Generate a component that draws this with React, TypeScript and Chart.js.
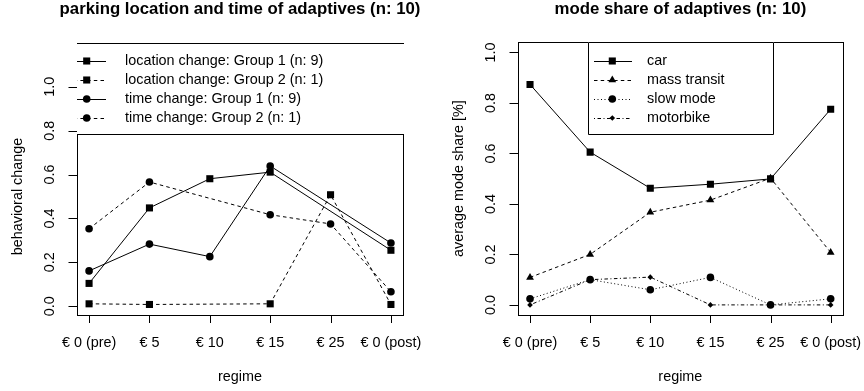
import React, { useEffect, useRef } from 'react';
import { Chart, registerables } from 'chart.js';
import { drawPoint } from 'chart.js/helpers';

Chart.register(...registerables);

const FONT = '"Liberation Sans", Arial, Helvetica, sans-serif';

const regimes = ['€ 0 (pre)', '€ 5', '€ 10', '€ 15', '€ 25', '€ 0 (post)'];
const yTicks = [0, 0.2, 0.4, 0.6, 0.8, 1.0];
const yTickLabels = ['0.0', '0.2', '0.4', '0.6', '0.8', '1.0'];

// left panel: parking location and time
const locationGroup1 = [0.104, 0.448, 0.581, 0.611, null, 0.255];
const locationGroup2 = [0.011, 0.008, null, 0.011, 0.508, 0.008];
const timeGroup1 = [0.161, 0.283, 0.226, 0.639, null, 0.288];
const timeGroup2 = [0.353, 0.566, null, 0.417, 0.375, 0.066];

// right panel: mode share
const car = [0.873, 0.605, 0.462, 0.478, 0.499, 0.775];
const massTransit = [0.109, 0.2, 0.367, 0.415, 0.502, 0.208];
const slowMode = [0.024, 0.1, 0.06, 0.109, 0, 0.024];
const motorbike = [0, 0.1, 0.11, 0, 0, 0];

const SOLID: number[] = [];
const DASHED = [3.5, 3.2];
const DOTTED = [1, 2.5];
const DOTDASH = [1, 2.5, 3.5, 2.5];

type Series = {
  label: string;
  values: (number | null)[];
  dash: number[];
  style: string;
  radius: number;
};

const leftSeries: Series[] = [
  { label: 'location change: Group 1 (n: 9)', values: locationGroup1, dash: SOLID, style: 'rect', radius: 5 },
  { label: 'location change: Group 2 (n: 1)', values: locationGroup2, dash: DASHED, style: 'rect', radius: 5 },
  { label: 'time change: Group 1 (n: 9)', values: timeGroup1, dash: SOLID, style: 'circle', radius: 3.8 },
  { label: 'time change: Group 2 (n: 1)', values: timeGroup2, dash: DASHED, style: 'circle', radius: 3.8 },
];

const rightSeries: Series[] = [
  { label: 'car', values: car, dash: SOLID, style: 'rect', radius: 5 },
  { label: 'mass transit', values: massTransit, dash: DASHED, style: 'triangle', radius: 4.5 },
  { label: 'slow mode', values: slowMode, dash: DOTTED, style: 'circle', radius: 3.8 },
  { label: 'motorbike', values: motorbike, dash: DOTDASH, style: 'rectRot', radius: 2.8 },
];

type LegendCfg = {
  x0?: number;
  x1?: number;
  y0: number;
  y1: number;
  clipToArea: boolean;
  fullBorder: boolean;
  sampleX0: number;
  sampleX1: number;
  markerX: number;
  textX: number;
};

type PanelCfg = {
  title: string;
  yTitle: string;
  padding: { left: number; right: number; top: number; bottom: number };
  series: Series[];
  legend: LegendCfg;
};

const leftPanel: PanelCfg = {
  title: 'parking location and time of adaptives (n: 10)',
  yTitle: 'behavioral change',
  padding: { left: 77, right: 29, top: 78, bottom: 76 },
  series: leftSeries,
  legend: {
    y0: 43, y1: 134, clipToArea: true, fullBorder: false,
    sampleX0: 67, sampleX1: 106, markerX: 86.7, textX: 125,
  },
};

const rightPanel: PanelCfg = {
  title: 'mode share of adaptives (n: 10)',
  yTitle: 'average mode share [%]',
  padding: { left: 86, right: 21.3, top: 42.3, bottom: 76 },
  series: rightSeries,
  legend: {
    x0: 155.7, x1: 340.7, y0: 42.3, y1: 134.3, clipToArea: false, fullBorder: true,
    sampleX0: 162, sampleX1: 200, markerX: 180.3, textX: 215,
  },
};

const px = (v: number) => Math.round(v) + 0.5;

function rPlotPlugin(cfg: PanelCfg) {
  return {
    id: 'rplot',
    afterDraw(chart: any) {
      const ctx: CanvasRenderingContext2D = chart.ctx;
      const a = chart.chartArea;
      const xs = chart.scales.x;
      const ys = chart.scales.y;
      ctx.save();
      ctx.strokeStyle = '#000';
      ctx.fillStyle = '#000';
      ctx.lineWidth = 1;
      ctx.setLineDash([]);

      // box
      ctx.strokeRect(px(a.left), px(a.top), Math.round(a.right) - Math.round(a.left), Math.round(a.bottom) - Math.round(a.top));

      // ticks
      ctx.beginPath();
      yTicks.forEach((v) => {
        const y = px(ys.getPixelForValue(v));
        ctx.moveTo(a.left - 8.5, y);
        ctx.lineTo(px(a.left), y);
      });
      regimes.forEach((_, i) => {
        const x = px(xs.getPixelForValue(i + 1));
        ctx.moveTo(x, px(a.bottom));
        ctx.lineTo(x, a.bottom + 8);
      });
      ctx.stroke();

      // tick labels
      ctx.font = `14.4px ${FONT}`;
      ctx.textAlign = 'center';
      ctx.textBaseline = 'middle';
      regimes.forEach((t, i) => {
        ctx.fillText(t, xs.getPixelForValue(i + 1), 342.7);
      });
      yTicks.forEach((v, i) => {
        ctx.save();
        ctx.translate(a.left - 27, ys.getPixelForValue(v));
        ctx.rotate(-Math.PI / 2);
        ctx.fillText(yTickLabels[i], 0, 0);
        ctx.restore();
      });

      // axis titles
      ctx.fillText('regime', (a.left + a.right) / 2, 376.7);
      ctx.save();
      ctx.translate(a.left - 59, (a.top + a.bottom) / 2);
      ctx.rotate(-Math.PI / 2);
      ctx.fillText(cfg.yTitle, 0, 0);
      ctx.restore();

      // main title
      ctx.font = `bold 16.8px ${FONT}`;
      ctx.fillText(cfg.title, (a.left + a.right) / 2, 9);

      // legend
      const L = cfg.legend;
      const lx0 = L.x0 ?? a.left;
      const lx1 = L.x1 ?? a.right;
      ctx.save();
      if (L.clipToArea) {
        ctx.beginPath();
        ctx.rect(Math.round(a.left), 0, Math.round(a.right) - Math.round(a.left) + 1, chart.height);
        ctx.clip();
      }
      ctx.fillStyle = '#fff';
      ctx.fillRect(Math.round(lx0), Math.round(L.y0), Math.round(lx1) - Math.round(lx0) + 1, Math.round(L.y1) - Math.round(L.y0) + 1);
      ctx.strokeStyle = '#000';
      ctx.beginPath();
      if (L.fullBorder) {
        ctx.rect(px(lx0), px(L.y0), Math.round(lx1) - Math.round(lx0), Math.round(L.y1) - Math.round(L.y0));
      } else {
        ctx.moveTo(Math.round(lx0), px(L.y0));
        ctx.lineTo(Math.round(lx1) + 1, px(L.y0));
        ctx.moveTo(Math.round(lx0), px(L.y1));
        ctx.lineTo(Math.round(lx1) + 1, px(L.y1));
      }
      ctx.stroke();

      ctx.font = `14.4px ${FONT}`;
      ctx.textAlign = 'left';
      ctx.textBaseline = 'middle';
      cfg.series.forEach((s, i) => {
        const y = 61 + i * 19;
        ctx.strokeStyle = '#000';
        ctx.setLineDash(s.dash);
        ctx.beginPath();
        ctx.moveTo(L.sampleX0, px(y));
        ctx.lineTo(L.sampleX1, px(y));
        ctx.stroke();
        ctx.setLineDash([]);
        ctx.fillStyle = '#000';
        drawPoint(ctx, { pointStyle: s.style as any, radius: s.radius, rotation: 0, borderWidth: 0 } as any, L.markerX, y);
        ctx.fillStyle = '#000';
        ctx.fillText(s.label, L.textX, y);
      });
      ctx.restore();

      ctx.restore();
    },
  };
}

function buildConfig(cfg: PanelCfg): any {
  return {
    type: 'line',
    data: {
      datasets: cfg.series.map((s) => ({
        label: s.label,
        data: s.values.map((v, i) => ({ x: i + 1, y: v })),
        borderColor: '#000',
        backgroundColor: '#000',
        borderWidth: 1,
        borderDash: s.dash,
        pointStyle: s.style,
        pointRadius: s.radius,
        pointBackgroundColor: '#000',
        pointBorderColor: '#000',
        pointBorderWidth: 0,
        tension: 0,
        spanGaps: true,
        fill: false,
      })),
    },
    options: {
      responsive: false,
      animation: false,
      devicePixelRatio: 1,
      layout: { padding: cfg.padding },
      scales: {
        x: { type: 'linear', min: 0.8, max: 6.2, display: false },
        y: { type: 'linear', min: -0.04, max: 1.04, display: false },
      },
      plugins: {
        legend: { display: false },
        tooltip: { enabled: false },
        title: { display: false },
      },
      events: [],
    },
    plugins: [rPlotPlugin(cfg)],
  };
}

function Panel({ cfg, left }: { cfg: PanelCfg; left: number }) {
  const ref = useRef<HTMLCanvasElement | null>(null);
  useEffect(() => {
    if (!ref.current) return;
    const chart = new Chart(ref.current, buildConfig(cfg));
    return () => chart.destroy();
  }, [cfg]);
  return (
    <canvas
      ref={ref}
      width={432}
      height={391}
      style={{ position: 'absolute', left, top: 0, width: 432, height: 391 }}
    />
  );
}

export default function App() {
  return (
    <div style={{ position: 'absolute', left: 0, top: 0, width: 864, height: 391, background: '#fff' }}>
      <Panel cfg={leftPanel} left={0} />
      <Panel cfg={rightPanel} left={432} />
    </div>
  );
}
